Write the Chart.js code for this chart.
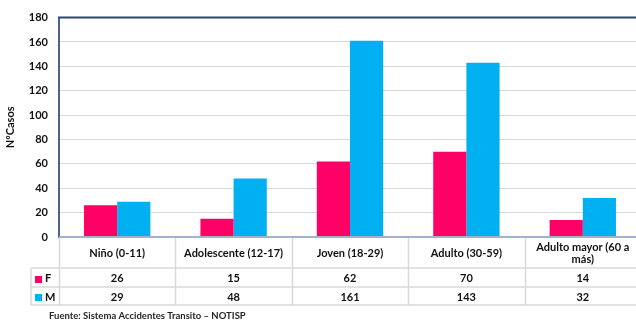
<!DOCTYPE html>
<html>
<head>
<meta charset="utf-8">
<script src="https://cdn.jsdelivr.net/npm/chart.js@4/dist/chart.umd.min.js"></script>
<style>
  html, body { margin: 0; padding: 0; background: #fff; overflow: hidden; }
  #wrap { position: relative; width: 641px; height: 324px; }
</style>
</head>
<body>
<div id="wrap"><canvas id="chart" width="641" height="324"></canvas></div>
<script>
  // data
  const categories = [
    ["Niño (0-11)"],
    ["Adolescente (12-17)"],
    ["Joven (18-29)"],
    ["Adulto (30-59)"],
    ["Adulto mayor (60 a", "más)"],
  ];
  const seriesNames = ["F", "M"];
  const femenino = [26, 15, 62, 70, 14];
  const masculino = [29, 48, 161, 143, 32];
  const yTicks = [0, 20, 40, 60, 80, 100, 120, 140, 160, 180];
  const colors = ["#ff0066", "#00b0f0"];

  const FONT = "Lato, 'Open Sans', sans-serif";
  const ROW_H = [31, 19, 18];

  // draws the frame, the data table under the axis and the source line
  const tablePlugin = {
    id: "dataTable",
    afterDraw(chart) {
      const { ctx, chartArea } = chart;
      const x = chart.scales.x;
      const n = categories.length;
      const colW = (chartArea.right - chartArea.left) / n;
      const y0 = chartArea.bottom;
      const y1 = y0 + ROW_H[0];
      const y2 = y1 + ROW_H[1];
      const y3 = y2 + ROW_H[2];
      const legendLeft = 31;

      ctx.save();
      // table grid
      ctx.strokeStyle = "#d9d9d9";
      ctx.lineWidth = 1.5;
      ctx.beginPath();
      for (let i = 0; i <= n; i++) {
        const bx = Math.round(chartArea.left + i * colW) + 0.5;
        ctx.moveTo(bx, y0);
        ctx.lineTo(bx, y3);
      }
      ctx.moveTo(legendLeft, y1);
      ctx.lineTo(legendLeft, y3);
      [y1, y2, y3].forEach((yy) => {
        ctx.moveTo(legendLeft, yy);
        ctx.lineTo(chartArea.right, yy);
      });
      ctx.stroke();

      // x axis line
      ctx.strokeStyle = "#a3b1cc";
      ctx.lineWidth = 2;
      ctx.beginPath();
      ctx.moveTo(chartArea.left, y0);
      ctx.lineTo(chartArea.right, y0);
      ctx.stroke();

      // top border
      ctx.strokeStyle = "#2f4577";
      ctx.lineWidth = 2;
      ctx.beginPath();
      ctx.moveTo(chartArea.left - 1, chartArea.top);
      ctx.lineTo(chartArea.right, chartArea.top);
      ctx.stroke();

      // header labels
      ctx.fillStyle = "#111";
      ctx.textAlign = "center";
      ctx.textBaseline = "middle";
      ctx.font = "bold 11px " + FONT;
      categories.forEach((lines, i) => {
        const cx = x.getPixelForValue(i);
        const mid = (y0 + y1) / 2 + 1;
        const lh = 12;
        lines.forEach((t, k) => {
          ctx.fillText(t, cx, mid + (k - (lines.length - 1) / 2) * lh);
        });
      });

      // value rows
      const rows = [femenino, masculino];
      const rowMid = [(y1 + y2) / 2 + 1, (y2 + y3) / 2 + 1];
      rows.forEach((vals, r) => {
        vals.forEach((v, i) => {
          ctx.fillText(String(v), x.getPixelForValue(i), rowMid[r]);
        });
        // legend key
        ctx.fillStyle = colors[r];
        ctx.fillRect(35, Math.round(rowMid[r]) - 3, 7, 7);
        ctx.fillStyle = "#111";
        ctx.textAlign = "left";
        ctx.fillText(seriesNames[r], 45, rowMid[r]);
        ctx.textAlign = "center";
      });

      // source
      ctx.textAlign = "left";
      ctx.font = "bold 9.5px " + FONT;
      ctx.fillStyle = "#262626";
      ctx.fillText("Fuente: Sistema Accidentes Transito \u2013 NOTISP", 49, 316);
      ctx.restore();
    },
  };

  new Chart(document.getElementById("chart"), {
    type: "bar",
    data: {
      labels: categories,
      datasets: [
        { label: seriesNames[0], data: femenino, backgroundColor: colors[0], borderWidth: 0 },
        { label: seriesNames[1], data: masculino, backgroundColor: colors[1], borderWidth: 0 },
      ],
    },
    options: {
      responsive: false,
      animation: false,
      events: [],
      layout: { padding: { left: 0, top: 14, right: 0, bottom: 87 } },
      plugins: { legend: { display: false }, tooltip: { enabled: false } },
      datasets: { bar: { categoryPercentage: 0.57, barPercentage: 1 } },
      scales: {
        x: {
          grid: { display: false },
          border: { display: false },
          ticks: { display: false },
          afterFit(scale) { scale.height = 0; },
        },
        y: {
          min: 0,
          max: 180,
          afterBuildTicks(scale) { scale.ticks = yTicks.map((v) => ({ value: v })); },
          afterFit(scale) { scale.width = 59; },
          grid: { color: "#d9d9d9", lineWidth: 1, drawTicks: false },
          border: { color: "#4a6393", width: 2 },
          ticks: {
            padding: 11,
            color: "#111",
            font: { family: FONT, size: 11, weight: "bold" },
          },
          title: {
            display: true,
            text: "NºCasos",
            color: "#111",
            padding: { top: 4, bottom: 0 },
            font: { family: FONT, size: 11, weight: "bold" },
          },
        },
      },
    },
    plugins: [tablePlugin],
  });
</script>
</body>
</html>
